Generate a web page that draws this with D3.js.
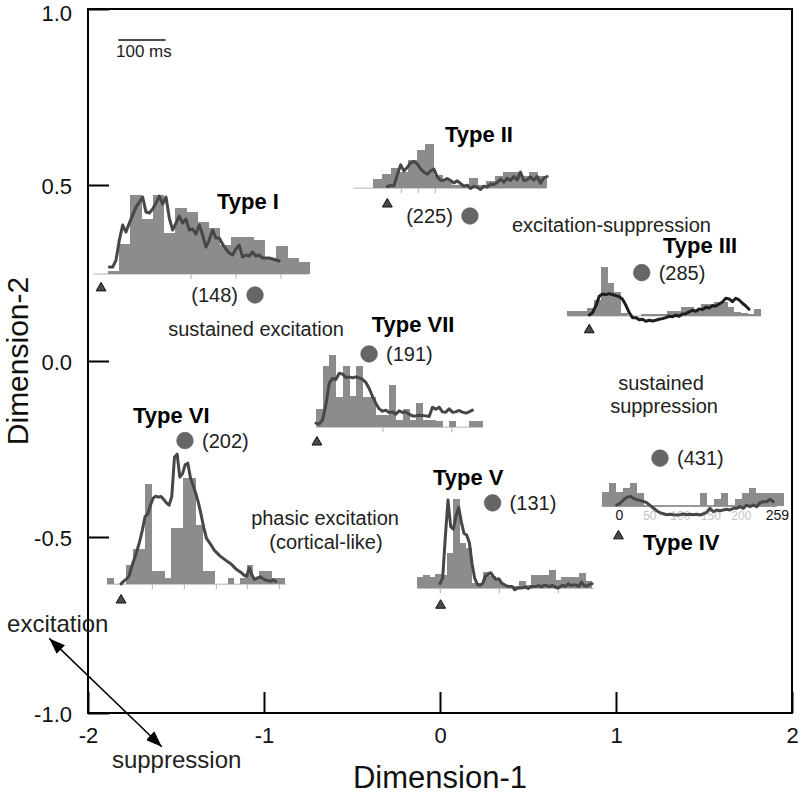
<!DOCTYPE html>
<html><head><meta charset="utf-8">
<script src="https://cdn.jsdelivr.net/npm/d3@7"></script>
<style>body{margin:0;background:#fff} svg{display:block} text{font-family:"Liberation Sans",Arial,sans-serif}</style>
</head><body><svg id="c" width="802" height="795"></svg>
<script>
// ---------- data ----------
const xTicks = [-2, -1, 0, 1, 2];
const yTicks = [-1, -0.5, 0, 0.5, 1];
const pointType  = ["I", "II", "III", "IV", "V", "VI", "VII"];
const pointDim1  = [-1.051, 0.170, 1.146, 1.250, 0.299, -1.449, -0.403];
const pointDim2  = [0.1875, 0.412, 0.251, -0.276, -0.403, -0.226, 0.020];
const pointCount = [148, 225, 285, 431, 131, 202, 191];

// PSTH bars (rate, arbitrary units) and smoothed response lines
const barsI   = [3,30,79,55,79,41,66,62,52,46,29,37,37,34,16,28,16,12];
const lineI   = [7,7,14,34,49,42,51,59,67,72,77,62,61,65,71,78,70,77,56,44,51,58,51,55,44,45,40,49,39,27,34,44,36,36,30,25,21,19,25,29,17,19,18,22,18,19,16,16,16,15,14,13];
const barsII  = [9,14,20,16,28,38,44,13,8,3,3,10,3,7,12,16,16,12,16,12];
const lineII  = [1.7,2.7,2.3,13.3,23.3,17.3,20.7,25.3,26.7,24.3,19.3,16,14,17.3,19,11.3,7.7,8,9.7,7.7,5.3,7.3,4.7,2,3,-0.3,2,1,-1.3,2,1,4,3.7,5.7,9,6,10,7.7,11.7,8.3,16,7.7,8.3,11.3,8,11.7,5,10,11.7];
const barsIII = [5,5,5,8,16,49,33,24,3,0,0,2,2,2,2,5,5,9,9,5,12,12,14,14,9,4,3,2,7];
const lineIII = [1,3.3,10.3,19.7,22,21.3,22.3,21.3,20.3,19.3,16.7,10.7,3.3,-1.7,-1.7,-3.7,-3.3,-5.3,-4.3,-5,-4.3,-3.3,-2.7,-1.7,-0.3,-0.7,0.7,-0.3,2,2.3,4,5.7,4.7,7,6.3,8.7,8,10.3,10,12,14,17.7,17,14.3,17.7,16,12.7,10,6.7];
const barsIV  = [14,23,14,18,23,13,0,0,0,0,0,0,0,0,13,0,7,13,0,7,13,18,13,13,13,13];
const lineIV  = [1,2.7,6,8.7,9.7,7.7,6.3,5.7,4.7,3.3,0.7,-2,-4.7,-6.7,-7.7,-8.7,-8.3,-8.7,-9,-8.7,-8,-8.7,-8.3,-8.7,-8.3,-9,-8,-6.3,-2.3,-5.7,-4,-4.7,-4,-3.3,-4,-2.3,-2.3,-0.7,-2.3,1,-0.7,1,-0.7,3.3,4.3,4.3,6.7,4.3];
const tickMsIV = [0, 50, 100, 150, 200, 259];
const barsV   = [11,13,11,14,13,35,89,45,40,5,5,16,12,8,3,2,2,7,3,13,13,13,18,8,11,11,11,15,7];
const lineV   = [5,10,51.7,88.3,61.7,59.3,72.3,81,66.3,55,53.3,45.7,24.7,10,4,3,5,12,14.3,15.7,11.7,9,9.7,5.7,4,2.3,2,2,-1.3,0.3,0.3,0.7,1.3,0,1.7,2,2,3,1.3,3.3,2.7,1.7,3,1.7,0.3,1.7,3,2,4.7,3,3.3,3.3,2,6.3,2.7,2.3,3.7,4.7];
const barsVI  = [6,0,0,19,35,35,100,13,13,6,56,56,106,106,59,13,13,0,0,6,0,6,19,6,13,13,6,6];
const lineVI  = [0.3,3,5,8.3,17.7,25.7,33.7,43,54.3,67.7,70.3,79,86,88,87,87.7,84.7,81.3,79,87.7,127,130,107,110.3,119.3,121,106.3,98.7,90.7,81,69.3,56.3,45.7,42,38,33.7,31,28.3,26.3,24.3,22.3,20.7,18,15.3,13.3,11.7,9,7.7,16.3,9.3,4.7,6,7.3,5.7,4.3,3.7,2.7,4.3,2.7];
const barsVII = [18,61,72,30,61,31,61,30,30,12,12,42,7,18,7,24,7,7,6,0,6,0,0,6,6];
const lineVII = [4,3,7.3,22.3,44,48.7,47.7,54,53,49.7,50.3,49.3,50.3,49.3,47.7,44.7,38.7,30.7,23.7,18.3,16,17,14.7,15.3,13,16.3,14.7,15.3,13,11.3,11.3,12,11.7,11.3,10.7,20,18,20,15.3,15,18.3,15,15.3,16.7,15,14,15.3,17];

// ---------- layout ----------
const W = 802, H = 795;
const x = d3.scaleLinear().domain([-2, 2]).range([88, 792]);
const y = d3.scaleLinear().domain([-1, 1]).range([713, 9]);
const FONT = '"Liberation Sans",Arial,sans-serif';
const svg = d3.select("#c");

const insets = [
  {bars: barsI,   line: lineI,   x0: -1.886, y0: 0.247,  binW: 11.2, baseFrom: -15, baseTo: 201, onset: -7,  triDy: 9,  lineFrom: 1.3,  lineStep: 3.33, ticks: [83,128,173], lineColor: "#474747"},
  {bars: barsII,  line: lineII,  x0: -0.379, y0: 0.491,  binW: 8.67, baseFrom: -20, baseTo: 173, onset: 14,  triDy: 11, lineFrom: 14,   lineStep: 3.33, ticks: [28,45,62], lineColor: "#474747"},
  {bars: barsIII, line: lineIII, x0: 0.723,  y0: 0.128,  binW: 6.67, baseFrom: 0,   baseTo: 194, onset: 22,  triDy: 9,  lineFrom: 22,   lineStep: 3.33, ticks: [], lineColor: "#1e1e1e"},
  {bars: barsIV,  line: lineIV,  x0: 0.919,  y0: -0.412, binW: 7,    baseFrom: 0,   baseTo: 175, onset: 16.7, triDy: 25, lineFrom: 15,  lineStep: 3.33, ticks: [], lineColor: "#474747", baseColor: "#777", msLabels: true},
  {bars: barsV,   line: lineV,   x0: -0.129, y0: -0.646, binW: 6,    baseFrom: 0,   baseTo: 176, onset: 23.3, triDy: 12, lineFrom: 22.7, lineStep: 2.67, ticks: [23,82,141], lineColor: "#474747"},
  {bars: barsVI,  line: lineVI,  x0: -1.890, y0: -0.634, binW: 6.33, baseFrom: -0.7, baseTo: 179, onset: 13.7, triDy: 11, lineFrom: 13.7, lineStep: 2.67, ticks: [45,77,109,140,172], lineColor: "#474747"},
  {bars: barsVII, line: lineVII, x0: -0.705, y0: -0.188, binW: 6.67, baseFrom: 0,   baseTo: 167, onset: 1,   triDy: 10, lineFrom: 0,    lineStep: 3.33, ticks: [67,136], lineColor: "#474747"}
];

const typeLabelPos = {
  I: [-1.267, 0.431], II: [0.028, 0.623], III: [1.267, 0.307], IV: [1.153, -0.537],
  V: [-0.040, -0.352], VI: [-1.744, -0.177], VII: [-0.388, 0.083]
};
const countLeft = {I: true, II: true};

const notes = [
  {t: "sustained excitation",   x: -1.045, y: 0.071,  a: "middle", s: 20},
  {t: "excitation-suppression", x: 0.974,  y: 0.366,  a: "middle", s: 20},
  {t: "sustained",              x: 1.256,  y: -0.082, a: "middle", s: 20},
  {t: "suppression",            x: 1.273,  y: -0.148, a: "middle", s: 20},
  {t: "phasic excitation",      x: -0.653, y: -0.466, a: "middle", s: 20},
  {t: "(cortical-like)",        x: -0.648, y: -0.534, a: "middle", s: 20},
  {t: "excitation",             x: -2.460, y: -0.770, a: "start",  s: 24},
  {t: "suppression",            x: -1.864, y: -1.156, a: "start",  s: 24},
  {t: "100 ms",                 x: -1.841, y: 0.864,  a: "start",  s: 17}
];

// ---------- insets ----------
insets.forEach(c => {
  const g = svg.append("g");
  const X0 = x(c.x0), Y0 = y(c.y0);
  const bx = d3.scaleLinear().domain([0, c.bars.length]).range([X0, X0 + c.bars.length * c.binW]);
  const amp = d3.scaleLinear().domain([0, 1]).range([Y0, Y0 - 1]);
  g.append("line").attr("x1", X0 + c.baseFrom).attr("x2", X0 + c.baseTo)
    .attr("y1", Y0).attr("y2", Y0).attr("stroke", c.baseColor || "#b4b4b4").attr("stroke-width", c.baseColor ? 1.5 : 1);
  g.selectAll("line.tk").data(c.ticks).join("line").attr("class", "tk")
    .attr("x1", d => X0 + d).attr("x2", d => X0 + d).attr("y1", Y0).attr("y2", Y0 + 5)
    .attr("stroke", "#b0b0b0").attr("stroke-width", 1);
  g.selectAll("rect").data(c.bars).join("rect")
    .attr("x", (d, i) => bx(i)).attr("width", c.binW + 0.4)
    .attr("y", d => amp(d)).attr("height", d => Y0 - amp(d))
    .attr("fill", "#8c8c8c").attr("shape-rendering", "crispEdges");
  if (c.msLabels) {
    const ms = d3.scaleLinear().domain([0, 259]).range([X0 + 17.6, X0 + 17.6 + 259 * 0.61]);
    g.selectAll("text.ms").data(tickMsIV).join("text").attr("class", "ms")
      .attr("x", d => ms(d)).attr("y", Y0 + 14).attr("text-anchor", "middle")
      .attr("font-size", (d, i) => (i === 0 || i === tickMsIV.length - 1) ? 14 : 12)
      .attr("fill", (d, i) => (i === 0 || i === tickMsIV.length - 1) ? "#111" : "#c4c4c4")
      .text(d => d);
  }
  const lx = d3.scaleLinear().domain([0, c.line.length - 1])
    .range([X0 + c.lineFrom, X0 + c.lineFrom + (c.line.length - 1) * c.lineStep]);
  g.append("path").datum(c.line)
    .attr("d", d3.line().x((d, i) => lx(i)).y(d => amp(d)))
    .attr("fill", "none").attr("stroke", c.lineColor).attr("stroke-width", 3)
    .attr("stroke-linejoin", "round").attr("stroke-linecap", "round");
  g.append("path").attr("d", d3.symbol().type(d3.symbolTriangle).size(42)())
    .attr("transform", `translate(${X0 + c.onset},${Y0 + c.triDy + 5})`)
    .attr("fill", "#4a4a4a").attr("stroke", "#111").attr("stroke-width", 1);
});

// ---------- frame & axes ----------
svg.append("rect").attr("x", x(-2)).attr("y", y(1)).attr("width", x(2) - x(-2)).attr("height", y(-1) - y(1))
  .attr("fill", "none").attr("stroke", "#000").attr("stroke-width", 2);

const gx = svg.append("g").attr("transform", `translate(0,${y(-1)})`)
  .call(d3.axisBottom(x).tickValues(xTicks).tickSize(-21).tickPadding(14)
    .tickFormat(d => (d < 0 ? "-" : "") + Math.abs(d)));
const gy = svg.append("g").attr("transform", `translate(${x(-2)},0)`)
  .call(d3.axisLeft(y).tickValues(yTicks).tickSize(-21).tickPadding(16)
    .tickFormat(d => (d < 0 ? "-" : "") + Math.abs(d).toFixed(1)));
[gx, gy].forEach(g => {
  g.select(".domain").remove();
  g.attr("font-family", FONT).attr("font-size", 22);
  g.selectAll("line").attr("stroke", "#000").attr("stroke-width", 2);
  g.selectAll("text").attr("fill", "#111");
});
// keep the top label fully inside the page
gy.selectAll("text").attr("dy", d => d === 1 ? "0.52em" : "0.4em");

svg.append("text").attr("x", x(0)).attr("y", 788).attr("text-anchor", "middle")
  .attr("font-size", 31).attr("fill", "#111").text("Dimension-1");
svg.append("text").attr("transform", `translate(28,${y(0)}) rotate(-90)`).attr("text-anchor", "middle")
  .attr("font-size", 30).attr("fill", "#111").text("Dimension-2");

// ---------- points ----------
const pts = pointType.map((t, i) => ({t, cx: x(pointDim1[i]), cy: y(pointDim2[i]), n: pointCount[i]}));
svg.selectAll("circle.pt").data(pts).join("circle").attr("class", "pt")
  .attr("cx", d => d.cx).attr("cy", d => d.cy).attr("r", 8.3)
  .attr("fill", "#666").attr("stroke", "#555").attr("stroke-width", 0.6);
svg.selectAll("text.cnt").data(pts).join("text").attr("class", "cnt")
  .attr("x", d => countLeft[d.t] ? d.cx - 17 : d.cx + 17).attr("y", d => d.cy + 7)
  .attr("text-anchor", d => countLeft[d.t] ? "end" : "start")
  .attr("font-size", 20).attr("fill", "#222").text(d => `(${d.n})`);
svg.selectAll("text.typ").data(pts).join("text").attr("class", "typ")
  .attr("x", d => x(typeLabelPos[d.t][0])).attr("y", d => y(typeLabelPos[d.t][1]))
  .attr("font-size", 22).attr("font-weight", "bold").attr("fill", "#000").text(d => "Type " + d.t);

// ---------- annotations ----------
svg.selectAll("text.note").data(notes).join("text").attr("class", "note")
  .attr("x", d => x(d.x)).attr("y", d => y(d.y)).attr("text-anchor", d => d.a)
  .attr("font-size", d => d.s).attr("fill", "#222").text(d => d.t);

// scale bar
svg.append("line").attr("x1", x(-1.828)).attr("x2", x(-1.559)).attr("y1", y(0.912)).attr("y2", y(0.912))
  .attr("stroke", "#111").attr("stroke-width", 1.5);

// double arrow
const defs = svg.append("defs");
defs.append("marker").attr("id", "ah").attr("viewBox", "0 0 16 12").attr("markerWidth", 16).attr("markerHeight", 12)
  .attr("refX", 16).attr("refY", 6).attr("orient", "auto-start-reverse").attr("markerUnits", "userSpaceOnUse")
  .append("path").attr("d", "M0,0 L16,6 L0,12 Z").attr("fill", "#000");
svg.append("line").attr("x1", x(-2.220)).attr("y1", y(-0.788)).attr("x2", x(-1.581)).attr("y2", y(-1.096))
  .attr("stroke", "#000").attr("stroke-width", 1.5)
  .attr("marker-start", "url(#ah)").attr("marker-end", "url(#ah)");
</script></body></html>
